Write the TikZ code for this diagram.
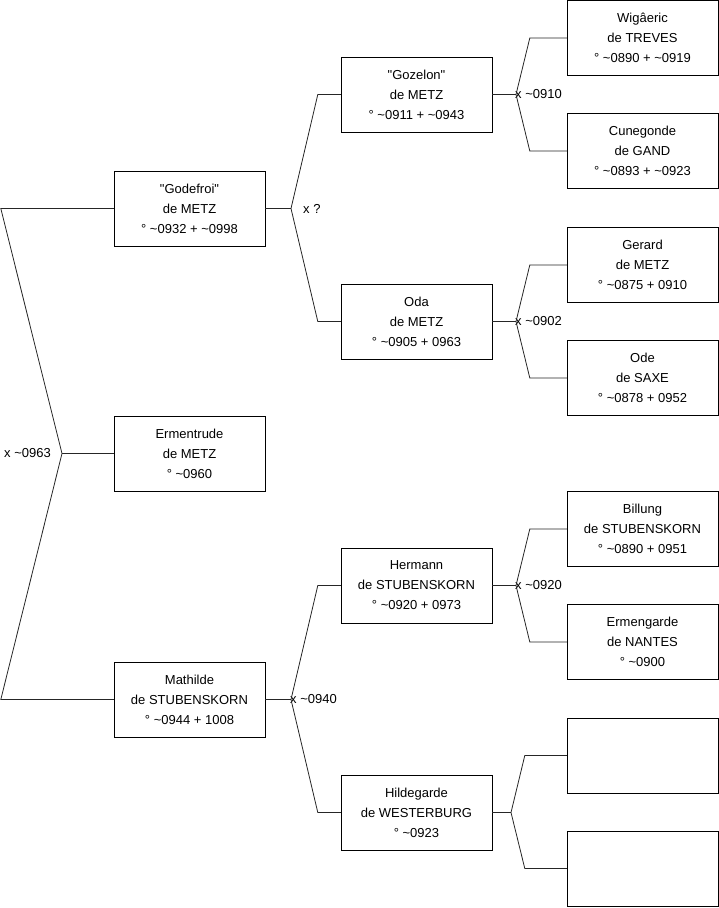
\documentclass[tikz,border=0pt]{standalone}
\usepackage{fontspec}
\setmainfont{Liberation Sans}

\begin{document}
\begin{tikzpicture}[x=1pt,y=-1pt,
  person/.style={draw,minimum width=151pt,minimum height=75pt,inner sep=0pt,
    align=center,font=\fontsize{13}{20}\selectfont},
  link/.style={draw=black!85,line width=0.8pt},
  lbl/.style={inner sep=1pt,font=\fontsize{13}{16}\selectfont}]
  \useasboundingbox (0,0) rectangle (719,908);

  % first generation
  \node[person] (godefroi) at (189.5,208.5) {\textquotedbl Godefroi\textquotedbl\\de METZ\\° \textasciitilde0932 + \textasciitilde0998};
  \node[person] (ermentrude) at (189.5,453.5) {Ermentrude\\de METZ\\° \textasciitilde0960};
  \node[person] (mathilde) at (189.5,699.5) {Mathilde\\de STUBENSKORN\\° \textasciitilde0944 + 1008};

  % second generation
  \node[person] (gozelon) at (416.5,94.5) {\textquotedbl Gozelon\textquotedbl\\de METZ\\° \textasciitilde0911 + \textasciitilde0943};
  \node[person] (oda) at (416.5,321.5) {Oda\\de METZ\\° \textasciitilde0905 + 0963};
  \node[person] (hermann) at (416.5,585.5) {Hermann\\de STUBENSKORN\\° \textasciitilde0920 + 0973};
  \node[person] (hildegarde) at (416.5,812.5) {Hildegarde\\de WESTERBURG\\° \textasciitilde0923};

  % third generation
  \node[person] (wigaeric) at (642.5,38) {Wigâeric\\de TREVES\\° \textasciitilde0890 + \textasciitilde0919};
  \node[person] (cunegonde) at (642.5,151) {Cunegonde\\de GAND\\° \textasciitilde0893 + \textasciitilde0923};
  \node[person] (gerard) at (642.5,265) {Gerard\\de METZ\\° \textasciitilde0875 + 0910};
  \node[person] (ode) at (642.5,378) {Ode\\de SAXE\\° \textasciitilde0878 + 0952};
  \node[person] (billung) at (642.5,529) {Billung\\de STUBENSKORN\\° \textasciitilde0890 + 0951};
  \node[person] (ermengarde) at (642.5,642) {Ermengarde\\de NANTES\\° \textasciitilde0900};
  \node[person] (blanka) at (642.5,755.5) {};
  \node[person] (blankb) at (642.5,868.5) {};

  % marriage points
  \coordinate (m0) at (62,453.5);
  \coordinate (m1) at (291,208.5);
  \coordinate (m2) at (291,699.5);
  \coordinate (m3) at (516,94.5);
  \coordinate (m4) at (516,321.5);
  \coordinate (m5) at (516,585.5);
  \coordinate (m6) at (511,812.5);

  \node[lbl,anchor=east] (x0) at (52,453.5) {x \textasciitilde0963};
  \node[lbl,anchor=west] (x1) at (302,208.5) {x ?};
  \node[lbl,anchor=west] (x2) at (289,699.5) {x \textasciitilde0940};
  \node[lbl,anchor=west] (x3) at (514,94.5) {x \textasciitilde0910};
  \node[lbl,anchor=west] (x4) at (514,321.5) {x \textasciitilde0902};
  \node[lbl,anchor=west] (x5) at (514,585.5) {x \textasciitilde0920};

  \draw[link] (godefroi.west) -- ([xshift=-113pt]godefroi.west) -- (m0)
    -- ([xshift=-113pt]mathilde.west) -- (mathilde.west);
  \draw[link] (m0) -- (ermentrude.west);

  \draw[link] (godefroi.east) -- (m1);
  \draw[link] (gozelon.west) -- ([xshift=-23pt]gozelon.west) -- (m1)
    -- ([xshift=-23pt]oda.west) -- (oda.west);
  \draw[link] (mathilde.east) -- (m2);
  \draw[link] (hermann.west) -- ([xshift=-23pt]hermann.west) -- (m2)
    -- ([xshift=-23pt]hildegarde.west) -- (hildegarde.west);

  \draw[link] (gozelon.east) -- (m3);
  \draw[link] (wigaeric.west) -- ([xshift=-37pt]wigaeric.west) -- (m3)
    -- ([xshift=-37pt]cunegonde.west) -- (cunegonde.west);
  \draw[link] (oda.east) -- (m4);
  \draw[link] (gerard.west) -- ([xshift=-37pt]gerard.west) -- (m4)
    -- ([xshift=-37pt]ode.west) -- (ode.west);
  \draw[link] (hermann.east) -- (m5);
  \draw[link] (billung.west) -- ([xshift=-37pt]billung.west) -- (m5)
    -- ([xshift=-37pt]ermengarde.west) -- (ermengarde.west);
  \draw[link] (hildegarde.east) -- (m6);
  \draw[link] (blanka.west) -- ([xshift=-42pt]blanka.west) -- (m6)
    -- ([xshift=-42pt]blankb.west) -- (blankb.west);
\end{tikzpicture}
\end{document}
